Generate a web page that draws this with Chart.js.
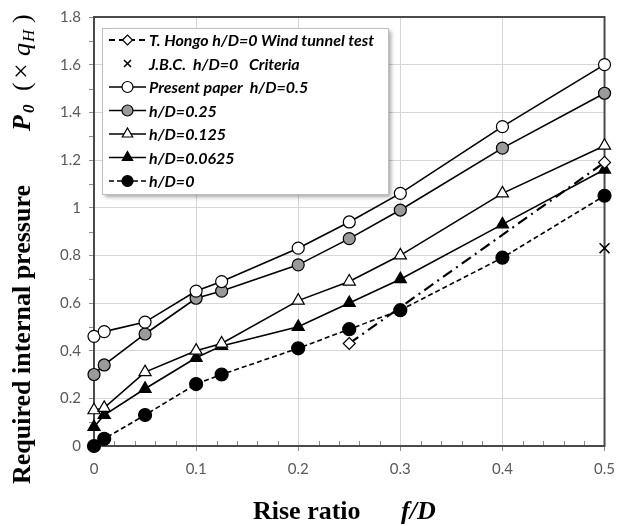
<!DOCTYPE html>
<html lang="en">
<head>
  <meta charset="UTF-8">
  <title>Required internal pressure vs rise ratio</title>
  <script src="https://cdn.jsdelivr.net/npm/chart.js"></script>
  <style>
    body { margin: 0; background: #fff; }
    canvas { display: block; }
  </style>
</head>
<body>
<canvas id="grafico" width="624" height="526"></canvas>

<script>
  // rise ratio f/D
  const fdValues = [0, 0.01, 0.05, 0.1, 0.125, 0.2, 0.25, 0.3, 0.4, 0.5];

  // present paper, P0 (x qH) for each h/D
  const hd05 = [0.46, 0.48, 0.52, 0.65, 0.69, 0.83, 0.94, 1.06, 1.34, 1.60];
  const hd025 = [0.30, 0.34, 0.47, 0.62, 0.65, 0.76, 0.87, 0.99, 1.25, 1.48];
  const hd0125 = [0.15, 0.16, 0.31, 0.40, 0.43, 0.61, 0.69, 0.80, 1.06, 1.26];
  const hd00625 = [0.08, 0.13, 0.24, 0.37, 0.42, 0.50, 0.60, 0.70, 0.93, 1.16];
  const hd0 = [0, 0.03, 0.13, 0.26, 0.30, 0.41, 0.49, 0.57, 0.79, 1.05];

  // T. Hongo wind tunnel test and J.B.C. criteria (h/D=0)
  const hongoFd = [0.25, 0.5];
  const hongoP = [0.43, 1.19];
  const jbcFd = [0.5];
  const jbcP = [0.83];

  const xTicks = [0, 0.1, 0.2, 0.3, 0.4, 0.5];
  const yTicks = [0, 0.2, 0.4, 0.6, 0.8, 1, 1.2, 1.4, 1.6, 1.8];

  const pts = (xs, ys) => xs.map((x, i) => ({x: x, y: ys[i]}));

  // caixa de legenda dentro da area do grafico
  const legendBox = {
    id: 'legendBox',
    afterDraw(chart) {
      const ctx = chart.ctx;
      const bx = 102, by = 28, bw = 286, bh = 166;
      ctx.save();
      ctx.shadowColor = 'rgba(0,0,0,0.35)';
      ctx.shadowBlur = 4;
      ctx.shadowOffsetX = 3;
      ctx.shadowOffsetY = 3;
      ctx.fillStyle = '#fff';
      ctx.fillRect(bx, by, bw, bh);
      ctx.restore();
      ctx.save();
      ctx.strokeStyle = '#bfbfbf';
      ctx.lineWidth = 1;
      ctx.strokeRect(bx + 0.5, by + 0.5, bw, bh);

      chart.data.datasets.forEach((ds, i) => {
        const yy = 40 + i * 23.5;
        if (ds.showLine !== false) {
          ctx.save();
          ctx.strokeStyle = ds.borderColor;
          ctx.lineWidth = ds.borderWidth;
          ctx.setLineDash(ds.legendDash || ds.borderDash || []);
          ctx.beginPath();
          ctx.moveTo(109, yy);
          ctx.lineTo(146, yy);
          ctx.stroke();
          ctx.restore();
        }
        ctx.save();
        ctx.fillStyle = ds.pointBackgroundColor;
        ctx.strokeStyle = ds.pointBorderColor;
        ctx.lineWidth = ds.pointBorderWidth;
        Chart.helpers.drawPoint(ctx, {
          pointStyle: ds.pointStyle,
          radius: ds.legendRadius || ds.pointRadius,
          rotation: 0,
          borderWidth: ds.pointBorderWidth
        }, 127.5, yy);
        ctx.restore();
        ctx.fillStyle = '#000';
        ctx.font = 'italic bold 16px Lato';
        ctx.textBaseline = 'middle';
        ctx.fillText(ds.label, 149, yy + 1);
      });
      ctx.restore();
    }
  };

  // moldura, ticks menores e titulos dos eixos
  const frameAndTitles = {
    id: 'frameAndTitles',
    beforeDatasetsDraw(chart) {
      const ctx = chart.ctx;
      const a = chart.chartArea;
      const xs = chart.scales.x, ys = chart.scales.y;
      ctx.save();
      ctx.strokeStyle = '#8c8c8c';
      ctx.lineWidth = 1;
      for (let k = 1; k < 25; k++) {
        if (k % 5 === 0) continue;
        const px = Math.round(xs.getPixelForValue(k * 0.02)) + 0.5;
        ctx.beginPath();
        ctx.moveTo(px, a.bottom);
        ctx.lineTo(px, a.bottom - 5);
        ctx.stroke();
      }
      for (let k = 1; k < 18; k += 2) {
        const py = Math.round(ys.getPixelForValue(k * 0.1)) + 0.5;
        ctx.beginPath();
        ctx.moveTo(a.left, py);
        ctx.lineTo(a.left - 5, py);
        ctx.stroke();
      }
      ctx.strokeStyle = '#4a4a4a';
      ctx.lineWidth = 2;
      ctx.strokeRect(a.left, a.top, a.right - a.left, a.bottom - a.top);
      ctx.restore();
    },
    afterDraw(chart) {
      const ctx = chart.ctx;
      ctx.save();
      ctx.fillStyle = '#000';
      ctx.textBaseline = 'alphabetic';

      // eixo x
      ctx.font = 'bold 26px "Liberation Serif"';
      ctx.fillText('Rise ratio', 253, 519);
      ctx.font = 'italic bold 26px "Liberation Serif"';
      ctx.fillText('f/D', 401, 519);

      // eixo y (rotacionado)
      ctx.translate(30, 484);
      ctx.rotate(-Math.PI / 2);
      ctx.font = 'bold 26px "Liberation Serif"';
      ctx.fillText('Required internal pressure', 0, 0);
      ctx.font = 'italic bold 26px "Liberation Serif"';
      ctx.fillText('P', 353, 0);
      ctx.font = 'italic bold 17px "Liberation Serif"';
      ctx.fillText('0', 371, 4);
      ctx.font = '26px "Liberation Serif"';
      ctx.fillText('(', 393, 0);
      ctx.font = '28px "Liberation Serif"';
      ctx.fillText('\u00d7', 405, 0);
      ctx.font = 'italic 26px "Liberation Serif"';
      ctx.fillText('q', 428, 0);
      ctx.font = 'italic 17px "Liberation Serif"';
      ctx.fillText('H', 442, 4);
      ctx.font = '26px "Liberation Serif"';
      ctx.fillText(')', 461, 0);
      ctx.restore();
    }
  };

  const lineBase = {
    borderColor: '#000',
    borderWidth: 1.6,
    pointBorderColor: '#000',
    pointBorderWidth: 1.2,
    clip: false
  };

  const chart = new Chart(document.getElementById('grafico').getContext('2d'), {
    type: 'scatter',
    data: {
      datasets: [
        Object.assign({}, lineBase, {
          label: 'T. Hongo h/D=0 Wind tunnel test',
          data: pts(hongoFd, hongoP),
          showLine: true,
          borderWidth: 2.2,
          borderDash: [11, 5, 2, 5],
          legendDash: [6, 4],
          pointStyle: 'rectRot',
          pointRadius: 6,
          legendRadius: 5,
          pointBackgroundColor: '#fff'
        }),
        Object.assign({}, lineBase, {
          label: 'J.B.C.  h/D=0   Criteria',
          data: pts(jbcFd, jbcP),
          showLine: false,
          pointStyle: 'crossRot',
          pointRadius: 7,
          legendRadius: 5,
          pointBorderWidth: 1.5,
          pointBackgroundColor: '#000'
        }),
        Object.assign({}, lineBase, {
          label: 'Present paper  h/D=0.5',
          data: pts(fdValues, hd05),
          showLine: true,
          pointStyle: 'circle',
          pointRadius: 6,
          legendRadius: 5.5,
          pointBackgroundColor: '#fff'
        }),
        Object.assign({}, lineBase, {
          label: 'h/D=0.25',
          data: pts(fdValues, hd025),
          showLine: true,
          pointStyle: 'circle',
          pointRadius: 6,
          legendRadius: 5.5,
          pointBackgroundColor: '#9a9a9a'
        }),
        Object.assign({}, lineBase, {
          label: 'h/D=0.125',
          data: pts(fdValues, hd0125),
          showLine: true,
          pointStyle: 'triangle',
          pointRadius: 7,
          legendRadius: 6,
          pointBackgroundColor: '#fff'
        }),
        Object.assign({}, lineBase, {
          label: 'h/D=0.0625',
          data: pts(fdValues, hd00625),
          showLine: true,
          pointStyle: 'triangle',
          pointRadius: 7,
          legendRadius: 6,
          pointBackgroundColor: '#000'
        }),
        Object.assign({}, lineBase, {
          label: 'h/D=0',
          data: pts(fdValues, hd0),
          showLine: true,
          borderWidth: 1.6,
          borderDash: [5, 3],
          pointStyle: 'circle',
          pointRadius: 6.5,
          legendRadius: 5.5,
          pointBackgroundColor: '#000'
        })
      ]
    },
    options: {
      responsive: false,
      animation: false,
      layout: { padding: { left: 0, right: 14, top: 17, bottom: 0 } },
      plugins: {
        legend: { display: false },
        tooltip: { enabled: false }
      },
      scales: {
        x: {
          type: 'linear',
          min: 0,
          max: 0.5,
          afterBuildTicks: s => { s.ticks = xTicks.map(v => ({value: v})); },
          afterFit: s => { s.height = 80; },
          border: { display: false },
          grid: { color: '#d6d6d6', lineWidth: 1, tickLength: 5, tickColor: '#8c8c8c' },
          ticks: {
            padding: 9,
            color: '#595959',
            font: { family: 'Lato', size: 15 },
            callback: v => String(Number(v.toFixed(2)))
          }
        },
        y: {
          min: 0,
          max: 1.8,
          afterBuildTicks: s => { s.ticks = yTicks.map(v => ({value: v})); },
          afterFit: s => { s.width = 94; },
          border: { display: false },
          grid: { color: '#d6d6d6', lineWidth: 1, tickLength: 5, tickColor: '#8c8c8c' },
          ticks: {
            padding: 8,
            color: '#595959',
            font: { family: 'Lato', size: 15 },
            callback: v => String(Number(v.toFixed(1)))
          }
        }
      }
    },
    plugins: [frameAndTitles, legendBox]
  });
</script>
</body>
</html>
